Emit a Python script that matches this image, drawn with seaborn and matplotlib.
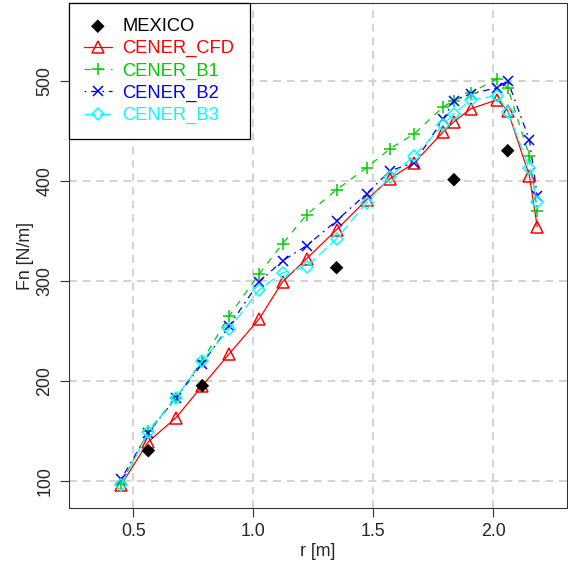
import matplotlib
matplotlib.use('Agg')
import numpy as np
import pandas as pd
import seaborn as sns
import matplotlib.pyplot as plt

# radial positions shared by the CENER curves
r = [0.45, 0.5625, 0.678, 0.7875, 0.90, 1.025, 1.122, 1.222, 1.347, 1.472,
     1.57, 1.671, 1.792, 1.836, 1.906, 2.017, 2.06, 2.15, 2.183]

cener_cfd = [96, 139, 163, 195, 227, 262, 299, 322, 351, 381,
             402, 418, 449, 459, 472, 481, 470, 405, 354]
cener_b1 = [97, 150, 183, 220, 265, 307, 337, 366, 391, 413,
            432, 447, 474, 480, 488, 502, 493, 425, 370]
cener_b2 = [102, 148, 183, 217, 255, 299, 320, 335, 360, 387,
            410, 418, 462, 480, 487, 493, 500, 441, 385]
cener_b3 = [96, 149, 183, 220, 252, 291, 308, 314, 342, 378,
            404, 425, 456, 467, 481, 485, 469, 413, 379]

mexico_r = [0.5625, 0.7875, 1.347, 1.836, 2.06]
mexico_fn = [130, 195, 313, 401, 430]

x_ticks = [0.5, 1.0, 1.5, 2.0]
x_tick_labels = ['0.5', '1.0', '1.5', '2.0']
y_ticks = [100, 200, 300, 400, 500]

sns.set_style('white')
plt.rcParams['font.family'] = ['Liberation Sans', 'DejaVu Sans']

fig = plt.figure(figsize=(5.68, 5.64), dpi=100)
ax = fig.add_axes([69 / 568, 1 - 508 / 564, 498 / 568, 505 / 564])

# grid first so it sits behind the data
for xv in x_ticks:
    ax.axvline(xv, color='#d3d3d3', lw=1.4, ls=(0, (4, 3)), zorder=0)
for yv in y_ticks:
    ax.axhline(yv, color='#d3d3d3', lw=1.4, ls=(0, (4, 3)), zorder=0)

series = [
    ('CENER_CFD', cener_cfd, '#ff0000', '^', 8.3, '-'),
    ('CENER_B1', cener_b1, '#00cd00', '+', 9.3, (0, (5.3, 5.3))),
    ('CENER_B2', cener_b2, '#0000ff', 'x', 7, (0, (1.4, 3.8, 5.3, 3.8))),
    ('CENER_B3', cener_b3, '#00ffff', 'D', 6.2, (0, (8.6, 3.8))),
]

for name, vals, col, mk, ms, ls in series:
    df = pd.DataFrame({'r': r, 'fn': vals})
    sns.lineplot(data=df, x='r', y='fn', ax=ax, color=col, lw=0.9,
                 linestyle=ls, marker=mk, markersize=ms,
                 markerfacecolor='none', markeredgecolor=col,
                 markeredgewidth=1.1, label=name, errorbar=None, sort=False)

mex = pd.DataFrame({'r': mexico_r, 'fn': mexico_fn})
sns.scatterplot(data=mex, x='r', y='fn', ax=ax, marker='D', s=48,
                color='black', edgecolor='none', label='MEXICO', zorder=5)

ax.set_xlim(0.232, 2.307)
ax.set_ylim(72.7, 577.7)
ax.set_xticks(x_ticks)
ax.set_xticklabels(x_tick_labels)
ax.set_yticks(y_ticks)
ax.set_yticklabels([str(v) for v in y_ticks], rotation=90, va='center')
ax.tick_params(axis='both', direction='out', length=6.5, width=0.8,
               color='#333333', labelsize=12.8, pad=4.6, bottom=True, left=True)

for sp in ax.spines.values():
    sp.set_color('#333333')
    sp.set_linewidth(0.8)

ax.set_xlabel('r [m]', fontsize=12.8)
ax.set_ylabel('Fn [N/m]', fontsize=12.8)
ax.xaxis.set_label_coords(0.5, -0.07)
ax.yaxis.set_label_coords(-0.07, 0.5)

handles, labels = ax.get_legend_handles_labels()
order = ['MEXICO', 'CENER_CFD', 'CENER_B1', 'CENER_B2', 'CENER_B3']
hmap = dict(zip(labels, handles))
leg = ax.legend([hmap[k] for k in order], order, loc='upper left',
                bbox_to_anchor=(0, 1), borderaxespad=0, frameon=True,
                fancybox=False, edgecolor='black', framealpha=1,
                fontsize=13.2, borderpad=0.82, labelspacing=0.28,
                handlelength=1.5, handletextpad=0.6)
leg.get_frame().set_linewidth(0.9)
text_colors = ['black', '#ff0000', '#00cd00', '#0000ff', '#00ffff']
for t, c in zip(leg.get_texts(), text_colors):
    t.set_color(c)

fig.savefig('out.png', dpi=100)
